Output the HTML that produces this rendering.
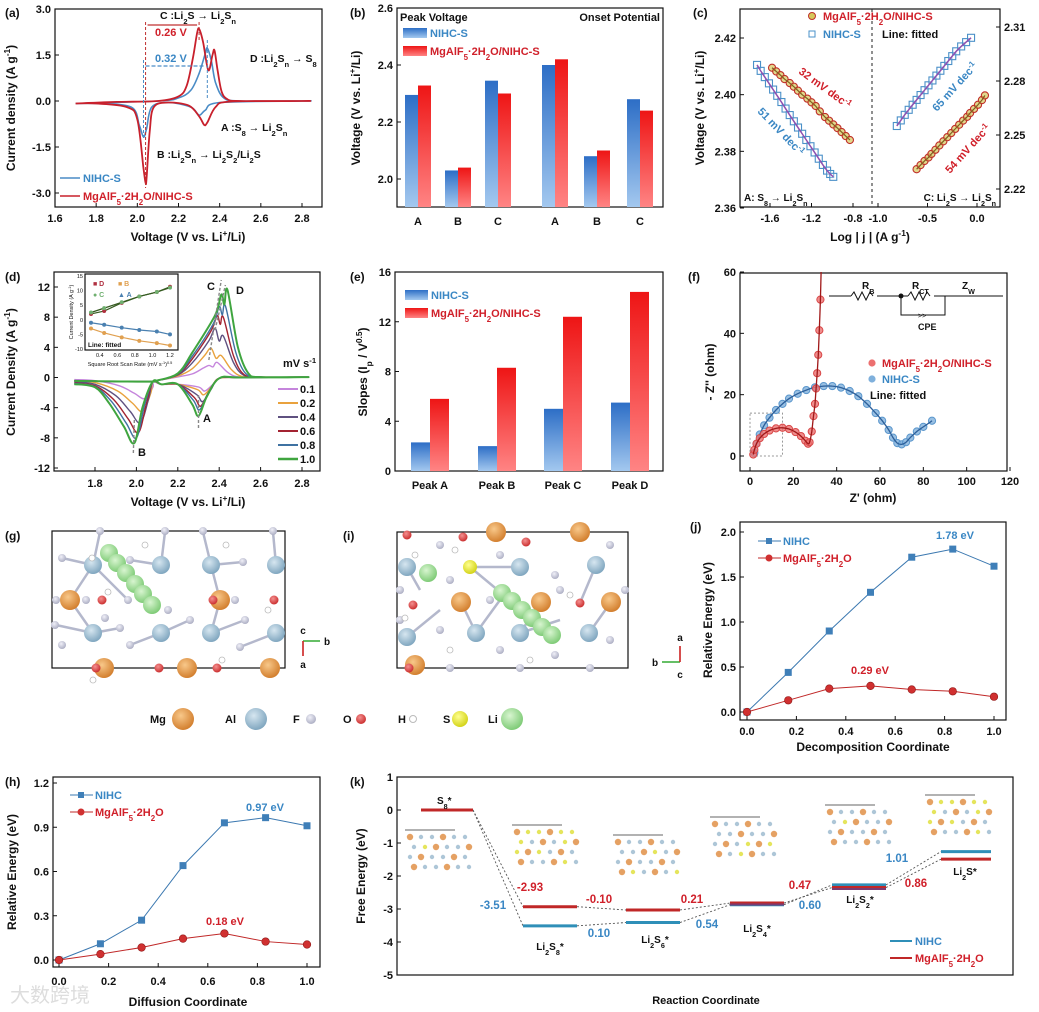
<!DOCTYPE html>
<html><head><meta charset="utf-8"><style>
html,body{margin:0;padding:0;background:#fff;}
svg{display:block;font-family:"Liberation Sans","Noto Sans CJK SC",sans-serif;font-weight:bold;}
</style></head><body>
<svg id="fig" width="1039" height="1012" viewBox="0 0 1039 1012" xmlns="http://www.w3.org/2000/svg">
<defs>
<linearGradient id="gb" x1="0" y1="0" x2="0" y2="1"><stop offset="0" stop-color="#2d6ec6"/><stop offset="1" stop-color="#a3c8ef"/></linearGradient>
<linearGradient id="gr" x1="0" y1="0" x2="0" y2="1"><stop offset="0" stop-color="#ee1515"/><stop offset="1" stop-color="#ff8484"/></linearGradient>
<radialGradient id="aMg" cx="0.4" cy="0.35" r="0.7"><stop offset="0" stop-color="#f8c88a"/><stop offset="1" stop-color="#d07a28"/></radialGradient>
<radialGradient id="aAl" cx="0.4" cy="0.35" r="0.7"><stop offset="0" stop-color="#d6e6f0"/><stop offset="1" stop-color="#7aa2bc"/></radialGradient>
<radialGradient id="aF" cx="0.4" cy="0.35" r="0.7"><stop offset="0" stop-color="#f0f0f8"/><stop offset="1" stop-color="#a8aac0"/></radialGradient>
<radialGradient id="aO" cx="0.4" cy="0.35" r="0.7"><stop offset="0" stop-color="#f49090"/><stop offset="1" stop-color="#c82828"/></radialGradient>
<radialGradient id="aS" cx="0.4" cy="0.35" r="0.7"><stop offset="0" stop-color="#ffff90"/><stop offset="1" stop-color="#d0d010"/></radialGradient>
<radialGradient id="aLi" cx="0.4" cy="0.35" r="0.7"><stop offset="0" stop-color="#d8f5d0"/><stop offset="1" stop-color="#78c870"/></radialGradient>
</defs>
</svg>
<script>
// ---------- DATA ----------
// (a)
const aRedV=[1.70,1.90,2.10,2.20,2.24,2.27,2.29,2.30,2.32,2.345,2.365,2.375,2.39,2.41,2.44,2.50,2.80,2.80,2.45,2.38,2.34,2.325,2.30,2.25,2.15,2.08,2.06,2.045,2.04,2.03,2.00,1.95,1.80,1.70];
const aRedI=[-0.08,-0.03,0,0.15,0.5,1.4,2.2,2.35,1.9,1.0,1.5,1.65,1.0,0.3,0.05,0,0,0,-0.02,-0.2,-0.7,-0.78,-0.5,-0.15,-0.05,-0.2,-1.0,-2.5,-2.67,-2.2,-0.6,-0.2,-0.08,-0.08];
const aBlueV=[1.70,2.10,2.20,2.26,2.30,2.33,2.34,2.36,2.38,2.42,2.50,2.80,2.80,2.40,2.33,2.30,2.26,2.15,2.07,2.045,2.03,2.01,1.97,1.80,1.70];
const aBlueI=[-0.08,0,0.1,0.35,0.9,1.55,1.72,1.3,0.6,0.1,0,0,0,-0.05,-0.3,-0.46,-0.2,-0.05,-0.2,-0.9,-1.17,-0.8,-0.2,-0.08,-0.08];
// (b)
const bCats=['A','B','C','A','B','C'];
const bBlue=[2.295,2.03,2.345,2.40,2.08,2.28];
const bRed=[2.328,2.04,2.30,2.42,2.10,2.24];
// (c)
const cBlueLX=[-1.725,-1.69,-1.65,-1.61,-1.57,-1.53,-1.49,-1.45,-1.41,-1.37,-1.33,-1.29,-1.25,-1.21,-1.17,-1.13,-1.09,-1.05,-1.02,-0.99];
const cBlueLY=[2.4105,2.4084,2.4062,2.4040,2.4018,2.3996,2.3974,2.3951,2.3928,2.3906,2.3884,2.3862,2.3840,2.3818,2.3796,2.3774,2.3752,2.3732,2.3720,2.371];
const cRedLX=[-1.58,-1.54,-1.50,-1.46,-1.41,-1.37,-1.33,-1.29,-1.24,-1.20,-1.16,-1.12,-1.07,-1.03,-0.99,-0.95,-0.91,-0.87,-0.83];
const cRedLY=[2.4095,2.4082,2.4069,2.4055,2.4041,2.4028,2.4014,2.4000,2.3986,2.3973,2.3960,2.3941,2.3921,2.3908,2.3895,2.3882,2.3868,2.3854,2.384];
const cBlueRX=[-0.81,-0.77,-0.73,-0.69,-0.65,-0.61,-0.57,-0.53,-0.49,-0.45,-0.41,-0.37,-0.33,-0.29,-0.25,-0.21,-0.16,-0.11,-0.06];
const cBlueRY=[2.255,2.2581,2.2612,2.2640,2.2668,2.2695,2.2722,2.2749,2.2776,2.2803,2.2830,2.2857,2.2884,2.2911,2.2938,2.2965,2.2992,2.3016,2.304];
const cRedRX=[-0.61,-0.57,-0.53,-0.49,-0.46,-0.42,-0.38,-0.34,-0.30,-0.26,-0.22,-0.18,-0.14,-0.10,-0.07,-0.03,0.01,0.05,0.08];
const cRedRY=[2.231,2.2333,2.2356,2.2375,2.2395,2.2418,2.2442,2.2465,2.2488,2.2511,2.2534,2.2557,2.2580,2.2601,2.2622,2.2645,2.2668,2.2694,2.272];
// (d)
const dRates=['0.1','0.2','0.4','0.6','0.8','1.0'];
const dColors=['#c585dc','#e9a23d','#5f5180','#a32331','#3f72a2','#3fa53f'];
const peakBI=[-2.8,-4.5,-6.0,-7.3,-8.0,-8.7];
const peakBV=[2.04,2.03,2.02,2.01,2.00,1.99];
const peakAI=[-1.8,-2.3,-3.2,-3.8,-4.3,-5.1];
const peakAV=[2.33,2.325,2.32,2.31,2.305,2.30];
const peakCI=[1.6,3.9,6.5,8.2,9.4,11.0];
const peakCV=[2.35,2.36,2.38,2.39,2.40,2.41];
const peakDI=[2.0,2.9,5.5,8.0,9.5,11.6];
const peakDV=[2.39,2.41,2.42,2.42,2.43,2.44];
const inX=[0.3,0.45,0.65,0.85,1.05,1.2];
const inD=[2,3,5.8,8,9.5,11.3];
const inC=[2.5,4,6,8,9.5,11];
const inA=[-1,-1.7,-2.7,-3.5,-4,-5];
const inB=[-3,-4.5,-6,-7.2,-8,-8.8];
// (e)
const eCats=['Peak A','Peak B','Peak C','Peak D'];
const eBlue=[2.3,2.0,5.0,5.5];
const eRed=[5.8,8.3,12.4,14.4];
// (f)
const fRedX=[1.5,2,3,4.5,6.5,9,12,15,18,21,23.5,25.5,26.8,27.5,28.5,29.3,30,30.5,31,31.5,32,32.5];
const fRedY=[0.5,2,4,5.8,7.2,8.3,9,9.2,8.8,7.8,6.5,5,4,4.5,8,13,17,22,27,33,41,51];
const fBlueX=[2,3,4.5,6.5,9,12,15,18,22,26,30,34,38,42,46,50,54,58,61,64,66,68,70,72,74,77,80,84];
const fBlueY=[1,4,7,10,12.5,15,17,18.7,20.3,21.5,22.4,22.8,22.8,22.3,21.2,19.5,17,14,11.5,8.5,6,4.2,3.8,4.5,6,8,9.5,11.5];
// (j)
const jX=[0,0.167,0.333,0.5,0.667,0.833,1.0];
const jNIHC=[0,0.44,0.90,1.33,1.72,1.81,1.62];
const jMg=[0,0.13,0.26,0.29,0.25,0.23,0.17];
// (h)
const hX=[0,0.167,0.333,0.5,0.667,0.833,1.0];
const hNIHC=[0,0.11,0.27,0.64,0.93,0.965,0.91];
const hMg=[0,0.04,0.085,0.145,0.18,0.125,0.105];
// (k)
const kStates=['S8*','Li2S8*','Li2S6*','Li2S4*','Li2S2*','Li2S*'];
const kNIHC=[0,-3.51,-3.41,-2.87,-2.27,-1.26];
const kMg=[0,-2.93,-3.03,-2.82,-2.35,-1.49];

// ---------- HELPERS ----------
const NS='http://www.w3.org/2000/svg';
const svg=document.getElementById('fig');
const BLUE='#3a87c4', RED='#d0202a';
function lin(d0,d1,r0,r1){return v=>r0+(v-d0)*(r1-r0)/(d1-d0);}
function el(tag,attrs,parent){const e=document.createElementNS(NS,tag);for(const k in attrs)e.setAttribute(k,attrs[k]);(parent||svg).appendChild(e);return e;}
function fmt(s){return s.replace(/_\{([^}]*)\}/g,'<tspan baseline-shift="sub" font-size="72%">$1</tspan>').replace(/_(\w)/g,'<tspan baseline-shift="sub" font-size="72%">$1</tspan>').replace(/\^\{([^}]*)\}/g,'<tspan baseline-shift="super" font-size="70%">$1</tspan>');}
function T(x,y,s,name,o){o=o||{};const e=el('text',{x:x,y:y,'font-size':o.fs||11,fill:o.fill||'#111','text-anchor':o.anchor||'start'});
 if(o.rot!==undefined)e.setAttribute('transform',`rotate(${o.rot} ${x} ${y})`);
 if(o.nb)e.setAttribute('font-weight','normal');
 e.innerHTML=fmt(s);
 
 
 return e;}
function frame(x0,y0,x1,y1,name){const r=el('rect',{x:x0,y:y0,width:x1-x0,height:y1-y0,fill:'none',stroke:'#111','stroke-width':1.2});
 
 }
function xAxis(sc,vals,labs,yB,yL,name){vals.forEach((v,i)=>{const x=sc(v);const t=el('line',{x1:x,y1:yB,x2:x,y2:yB-4,stroke:'#111'});
 
 
 T(x,yL,labs[i],name+'-label',{anchor:'middle'});});}
function yAxis(sc,vals,labs,xL,name,right){vals.forEach((v,i)=>{const y=sc(v);const t=el('line',{x1:xL,y1:y,x2:right?xL-4:xL+4,y2:y,stroke:'#111'});
 
 
 T(right?xL+4:xL-4,y+4,labs[i],name+'-label',{anchor:right?'start':'end'});});}
function smooth(p){let d=`M${p[0][0].toFixed(1)},${p[0][1].toFixed(1)}`;for(let i=0;i<p.length-1;i++){const p0=p[i-1]||p[i],p1=p[i],p2=p[i+1],p3=p[i+2]||p2;
 const c1=[p1[0]+(p2[0]-p0[0])/6,p1[1]+(p2[1]-p0[1])/6],c2=[p2[0]-(p3[0]-p1[0])/6,p2[1]-(p3[1]-p1[1])/6];
 d+=`C${c1[0].toFixed(1)},${c1[1].toFixed(1)} ${c2[0].toFixed(1)},${c2[1].toFixed(1)} ${p2[0].toFixed(1)},${p2[1].toFixed(1)}`;}return d;}
function path(d,stroke,w,name,dash){const e=el('path',{d:d,fill:'none',stroke:stroke,'stroke-width':w});if(dash)e.setAttribute('stroke-dasharray',dash);
 
 
 return e;}
function line(x1,y1,x2,y2,stroke,w,name,dash){const e=el('line',{x1:x1,y1:y1,x2:x2,y2:y2,stroke:stroke,'stroke-width':w});if(dash)e.setAttribute('stroke-dasharray',dash);
 
 
 return e;}

// ---------- (a) ----------
{const sx=lin(1.6,2.8,55,302),sy=lin(3,-3,9,193);
frame(55,9,322,207,'panel-a-frame');
xAxis(sx,[1.6,1.8,2.0,2.2,2.4,2.6,2.8],['1.6','1.8','2.0','2.2','2.4','2.6','2.8'],207,222,'a-x');
yAxis(sy,[3,1.5,0,-1.5,-3],['3.0','1.5','0.0','-1.5','-3.0'],55,'a-y');
T(5,17,'(a)','panel-a-tag',{fs:12});
T(15,108,'Current density (A g^{-1})','a-y-title',{fs:12,anchor:'middle',rot:-90});
T(188,241,'Voltage (V vs. Li^{+}/Li)','a-x-title',{fs:12,anchor:'middle'});
path(smooth(aBlueV.map((v,i)=>[sx(v),sy(aBlueI[i])])),'#4a8cc6',1.6,'a-nihc-curve');
path(smooth(aRedV.map((v,i)=>[sx(v),sy(aRedI[i])])),'#c8202c',1.8,'a-mg-curve');
line(sx(2.04),22,sx(2.04),188,'#c03030',1,'a-red-guide','3,2');
line(sx(2.30),22,sx(2.30),40,'#c03030',1,'a-red-guide2','3,2');
line(sx(2.03),60,sx(2.03),140,'#4a8cc6',1,'a-blue-guide','3,2');
line(sx(2.34),40,sx(2.34),100,'#4a8cc6',1,'a-blue-guide2','3,2');
line(sx(2.04)+2,25,sx(2.30)-2,25,'#c03030',1.3,'a-026-arrow');
line(sx(2.03)+2,66,sx(2.34)-2,66,'#4a8cc6',1.3,'a-032-arrow','4,2');
T(155,36,'0.26 V','a-026-label',{fill:RED});
T(155,62,'0.32 V','a-032-label',{fill:BLUE});
T(160,19,'C :Li_2S → Li_2S_n','a-peak-c-label',{fs:10.5});
T(250,62,'D :Li_2S_n → S_8','a-peak-d-label',{fs:10.5});
T(221,131,'A :S_8 → Li_2S_n','a-peak-a-label',{fs:10.5});
T(157,158,'B :Li_2S_n → Li_2S_2/Li_2S','a-peak-b-label',{fs:10.5});
line(60,178,80,178,'#4a8cc6',1.6,'a-legend-nihc-line');T(83,182,'NIHC-S','a-legend-nihc',{fill:BLUE});
line(60,196,80,196,'#c8202c',1.6,'a-legend-mg-line');T(83,200,'MgAlF_5·2H_2O/NIHC-S','a-legend-mg',{fill:RED});}

// ---------- (b) ----------
{const sy=lin(2.0,2.6,179,8),cx=[418,458,498,555,597,640],bw=13,base=207;
frame(397,8,663,207,'panel-b-frame');
yAxis(sy,[2.0,2.2,2.4,2.6],['2.0','2.2','2.4','2.6'],397,'b-y');
T(350,17,'(b)','panel-b-tag',{fs:12});
T(360,108,'Voltage (V vs. Li^{+}/Li)','b-y-title',{fs:12,anchor:'middle',rot:-90});
bCats.forEach((c,i)=>{const yb=sy(bBlue[i]),yr=sy(bRed[i]);
 const b=el('rect',{x:cx[i]-bw,y:yb,width:bw,height:base-yb,fill:'url(#gb)'});
 
 
 const r=el('rect',{x:cx[i],y:yr,width:bw,height:base-yr,fill:'url(#gr)'});
 
 
 T(cx[i],225,c,'b-cat-label',{anchor:'middle'});});
T(400,21,'Peak Voltage','b-peak-voltage-title');
T(660,21,'Onset Potential','b-onset-title',{anchor:'end'});
el('rect',{x:403,y:28,width:24,height:10,fill:'url(#gb)'});T(430,37,'NIHC-S','b-legend-nihc',{fill:BLUE});
el('rect',{x:403,y:46,width:24,height:10,fill:'url(#gr)'});T(430,55,'MgAlF_5·2H_2O/NIHC-S','b-legend-mg',{fill:RED});}

// ---------- (c) ----------
{const sxL=lin(-1.6,-0.8,770,853),sxR=lin(-1.0,0.0,878,977),syL=lin(2.42,2.36,38,208),syR=lin(2.31,2.22,27,189);
frame(740,9,1000,207,'panel-c-frame');
xAxis(sxL,[-1.6,-1.2,-0.8],['-1.6','-1.2','-0.8'],207,222,'c-x-left');
xAxis(sxR,[-1.0,-0.5,0.0],['-1.0','-0.5','0.0'],207,222,'c-x-right');
yAxis(syL,[2.42,2.40,2.38,2.36],['2.42','2.40','2.38','2.36'],740,'c-y-left');
yAxis(syR,[2.31,2.28,2.25,2.22],['2.31','2.28','2.25','2.22'],1000,'c-y-right',true);
line(872,9,872,207,'#222',1,'c-divider','3,3');
T(693,17,'(c)','panel-c-tag',{fs:12});
T(704,108,'Voltage (V vs. Li^{+}/Li)','c-y-title',{fs:12,anchor:'middle',rot:-90});
T(870,241,'Log | j | (A g^{-1})','c-x-title',{fs:12,anchor:'middle'});
function sq(xs,ys,sx,sy,name,fitc){
 xs.forEach((v,i)=>{const m=el('rect',{x:sx(v)-3.5,y:sy(ys[i])-3.5,width:7,height:7,fill:'#fff','fill-opacity':0.3,stroke:'#4a90c8','stroke-width':1.1});
 
 });
 path('M'+xs.map((v,i)=>sx(v)+','+sy(ys[i])).join('L'),fitc,1.5,name+'-fit');}
function ci(xs,ys,sx,sy,name,fitc){
 xs.forEach((v,i)=>{const m=el('circle',{cx:sx(v),cy:sy(ys[i]),r:3.6,fill:'#d6c85c','fill-opacity':0.7,stroke:'#c0302a','stroke-width':1.1});
 
 });
 path('M'+xs.map((v,i)=>sx(v)+','+sy(ys[i])).join('L'),fitc,1.2,name+'-fit');}
sq(cBlueLX,cBlueLY,sxL,syL,'c-nihc-a','#9050b0');
ci(cRedLX,cRedLY,sxL,syL,'c-mg-a','#806020');
sq(cBlueRX,cBlueRY,sxR,syR,'c-nihc-c','#9050b0');
ci(cRedRX,cRedRY,sxR,syR,'c-mg-c','#806020');
el('circle',{cx:812,cy:16,r:3.5,fill:'#d6c85c',stroke:'#c0302a'});T(823,20,'MgAlF_5·2H_2O/NIHC-S','c-legend-mg',{fill:RED});
el('rect',{x:809,y:31,width:6,height:6,fill:'none',stroke:'#4a90c8'});T(823,38,'NIHC-S','c-legend-nihc',{fill:BLUE});
T(882,38,'Line: fitted','c-legend-fitted');
T(798,73,'32 mV dec^{-1}','c-slope-32',{fill:RED,rot:36});
T(757,112,'51 mV dec^{-1}','c-slope-51',{fill:BLUE,rot:46});
T(937,112,'65 mV dec^{-1}','c-slope-65',{fill:BLUE,rot:-48});
T(950,174,'54 mV dec^{-1}','c-slope-54',{fill:RED,rot:-48});
T(744,201,'A: S_8 → Li_2S_n','c-region-a',{fs:10});
T(996,201,'C: Li_2S → Li_2S_n','c-region-c',{fs:10,anchor:'end'});}

// ---------- (d) ----------
{const sx=lin(1.8,2.8,95,302),sy=lin(12,-12,287,468);
frame(54,272,320,471,'panel-d-frame');
xAxis(sx,[1.8,2.0,2.2,2.4,2.6,2.8],['1.8','2.0','2.2','2.4','2.6','2.8'],471,487,'d-x');
yAxis(sy,[12,8,4,0,-4,-8,-12],['12','8','4','0','-4','-8','-12'],54,'d-y');
T(5,281,'(d)','panel-d-tag',{fs:12});
T(15,372,'Current Density (A g^{-1})','d-y-title',{fs:12,anchor:'middle',rot:-90});
T(188,506,'Voltage (V vs. Li^{+}/Li)','d-x-title',{fs:12,anchor:'middle'});
dRates.forEach((r,i)=>{const B=peakBI[i],A=peakAI[i],C=peakCI[i],D=peakDI[i];
 const pts=[[1.7,-0.45],[2.05,-0.55],[2.1,-0.4],[2.2,0.05*C],[2.27,0.3*C],[peakCV[i]-0.03,0.75*C],[peakCV[i],C],[(peakCV[i]+peakDV[i])/2,Math.min(C,D)*0.88],[peakDV[i],D],[peakDV[i]+0.05,0.35*D],[peakDV[i]+0.1,0.05*D],[2.6,0.05],[2.8,0.05],
  [2.8,0.05],[2.5,0],[2.4,-0.1],[peakAV[i]+0.04,0.5*A],[peakAV[i],A],[peakAV[i]-0.03,0.7*A],[2.2,-0.9],[2.12,-0.9],[2.08,-0.5],[peakBV[i]+0.04,0.45*B],[peakBV[i],B],[peakBV[i]-0.05,0.75*B],[peakBV[i]-0.12,0.4*B],[1.8,0.15*B],[1.7,0.1*B]];
 path(smooth(pts.map(p=>[sx(p[0]),sy(p[1])])),dColors[i],i==5?2:1.4,'d-cv-curve-'+r);
 line(278,389+i*14,298,389+i*14,dColors[i],i==5?2.5:2,'d-legend-line-'+r);
 T(300,393+i*14,r,'d-legend-'+r);});
T(283,367,'mV s^{-1}','d-legend-title');
T(207,290,'C','d-peak-c');T(236,294,'D','d-peak-d');T(203,422,'A','d-peak-a');T(138,456,'B','d-peak-b');
line(sx(2.30),395,sx(2.30),428,'#888',1.4,'d-arrow-a','3,2');line(sx(1.99),420,sx(1.985),455,'#888',1.4,'d-arrow-b','3,2');
line(sx(2.35),360,sx(2.41),280,'#888',1.4,'d-arrow-c','3,2');line(sx(2.38),330,sx(2.43),285,'#888',1.4,'d-arrow-d','3,2');
// inset
const ix=lin(0.3,1.2,91,170),iy=lin(15,-10,276,349);
frame(85,274,178,350,'d-inset-frame');
[15,10,5,0,-5,-10].forEach(v=>T(83,iy(v)+2,String(v),'d-inset-y-label',{fs:5.5,anchor:'end',nb:1}));
[0.4,0.6,0.8,1.0,1.2].forEach(v=>T(ix(v),357,v.toFixed(1),'d-inset-x-label',{fs:5.5,anchor:'middle',nb:1}));
T(73,312,'Current Density (A g^{-1})','d-inset-y-title',{fs:5.5,anchor:'middle',rot:-90,nb:1});
T(130,366,'Square Root Scan Rate (mV s^{-1})^{0.5}','d-inset-x-title',{fs:5.5,anchor:'middle',nb:1});
[[inD,'#b03040'],[inC,'#70b070'],[inA,'#4a80b0'],[inB,'#e0a050']].forEach((s,k)=>{
 path('M'+inX.map((v,i)=>ix(v)+','+iy(s[0][i])).join('L'),k<2?'#355a20':s[1],1.2,'d-inset-fit-'+k);
 inX.forEach((v,i)=>{const m=el('circle',{cx:ix(v),cy:iy(s[0][i]),r:2,fill:s[1]});
 
 });});
T(93,286,'■ D','d-inset-legend-d',{fs:7,fill:'#b03040'});T(118,286,'■ B','d-inset-legend-b',{fs:7,fill:'#e0a050'});
T(93,297,'● C','d-inset-legend-c',{fs:7,fill:'#70b070'});T(118,297,'▲ A','d-inset-legend-a',{fs:7,fill:'#4a80b0'});
T(88,347,'Line: fitted','d-inset-fitted',{fs:6.5});}

// ---------- (e) ----------
{const sy=lin(0,16,471,272),cx=[430,497,563,630],bw=19;
frame(395,272,663,471,'panel-e-frame');
yAxis(sy,[0,4,8,12,16],['0','4','8','12','16'],395,'e-y');
T(350,281,'(e)','panel-e-tag',{fs:12});
T(367,372,'Slopes (I_p / V^{0.5})','e-y-title',{fs:12,anchor:'middle',rot:-90});
eCats.forEach((c,i)=>{const yb=sy(eBlue[i]),yr=sy(eRed[i]);
 const b=el('rect',{x:cx[i]-bw,y:yb,width:bw,height:471-yb,fill:'url(#gb)'});
 
 
 const r=el('rect',{x:cx[i],y:yr,width:bw,height:471-yr,fill:'url(#gr)'});
 
 
 T(cx[i],489,c,'e-cat-label',{anchor:'middle'});});
el('rect',{x:405,y:290,width:23,height:10,fill:'url(#gb)'});T(431,299,'NIHC-S','e-legend-nihc',{fill:BLUE});
el('rect',{x:405,y:308,width:23,height:10,fill:'url(#gr)'});T(431,317,'MgAlF_5·2H_2O/NIHC-S','e-legend-mg',{fill:RED});}

// ---------- (f) ----------
{const sx=lin(0,120,750,1010),sy=lin(0,60,456,272);
frame(740,273,1007,471,'panel-f-frame');
xAxis(sx,[0,20,40,60,80,100,120],['0','20','40','60','80','100','120'],471,485,'f-x');
yAxis(sy,[0,20,40,60],['0','20','40','60'],740,'f-y');
T(688,281,'(f)','panel-f-tag',{fs:12});
T(714,372,"- Z'' (ohm)",'f-y-title',{fs:12,anchor:'middle',rot:-90});
T(873,502,"Z' (ohm)",'f-x-title',{fs:12,anchor:'middle'});
el('rect',{x:sx(0),y:sy(14),width:sx(15)-sx(0),height:sy(0)-sy(14),fill:'none',stroke:'#999','stroke-dasharray':'2,2'});
fBlueX.forEach((v,i)=>{const m=el('circle',{cx:sx(v),cy:sy(fBlueY[i]),r:3.6,fill:'#7fb0dc',stroke:'#5a96cc','fill-opacity':0.8});
 
 });
path(smooth(fBlueX.map((v,i)=>[sx(v),sy(fBlueY[i])])),'#2c5f9a',1.3,'f-nihc-fit');
fRedX.forEach((v,i)=>{const m=el('circle',{cx:sx(v),cy:sy(fRedY[i]),r:3.6,fill:'#ec7070',stroke:'#d84848','fill-opacity':0.8});
 
 });
path(smooth(fRedX.map((v,i)=>[sx(v),sy(fRedY[i])]).concat([[sx(32.8),sy(60)]])),'#a01818',1.3,'f-mg-fit');
// circuit
const cg='#111';line(829,296,851,296,cg,1,'f-circuit-wire');path('M851,296l3,-4l4,8l4,-8l4,8l4,-8l3,4',cg,1,'f-rb-resistor');line(877,296,908,296,cg,1,'f-circuit-wire');
el('circle',{cx:901,cy:296,r:2.5,fill:cg});path('M908,296l3,-4l4,8l4,-8l4,8l4,-8l3,4',cg,1,'f-rct-resistor');line(934,296,1003,296,cg,1,'f-circuit-wire');
path('M901,296V315H945V296',cg,1,'f-cpe-branch');T(918,318,'>>','f-cpe-symbol',{fs:7,nb:1});
T(862,289,'R_B','f-rb-label',{fs:10});T(912,289,'R_{CT}','f-rct-label',{fs:10});T(962,289,'Z_W','f-zw-label',{fs:10});T(918,330,'CPE','f-cpe-label',{fs:9});
el('circle',{cx:872,cy:363,r:3.6,fill:'#ec7070'});T(882,367,'MgAlF_5·2H_2O/NIHC-S','f-legend-mg',{fill:RED});
el('circle',{cx:872,cy:379,r:3.6,fill:'#7fb0dc'});T(882,383,'NIHC-S','f-legend-nihc',{fill:BLUE});
T(870,399,'Line: fitted','f-legend-fitted');}

// ---------- structures (g) (i) ----------
{const cols={Mg:'url(#aMg)',Al:'url(#aAl)',F:'url(#aF)',O:'url(#aO)',S:'url(#aS)',Li:'url(#aLi)',H:'#fff'};
function atoms(list,name){list.forEach(a=>{const c=el('circle',{cx:a[0],cy:a[1],r:a[2],fill:cols[a[3]],stroke:a[3]=='H'?'#bbb':'none','stroke-width':0.8});
 
 });}
const bonds=(pairs)=>pairs.forEach(p=>line(p[0],p[1],p[2],p[3],'#b4b8cc',2.5,'structure-bond'));
bonds([[93,565,62,558],[93,565,100,532],[93,565,128,600],[161,565,165,532],[161,565,130,560],[211,565,203,532],[211,565,243,562],[276,565,273,532],[93,633,56,625],[93,633,120,628],[161,633,190,620],[211,633,245,620],[276,633,240,647],[161,633,130,645],[70,600,93,565],[220,600,211,565],[70,600,93,633],[220,600,211,633]]);
frame(52,531,285,668,'panel-g-cell');
atoms([[100,531,4,'F'],[165,531,4,'F'],[203,531,4,'F'],[273,531,4,'F'],[62,558,4,'F'],[130,560,4,'F'],[243,562,4,'F'],[56,600,4,'F'],[86,600,4,'F'],[128,600,4,'F'],[235,600,4,'F'],[168,610,4,'F'],[105,618,4,'F'],[55,625,4,'F'],[120,628,4,'F'],[190,620,4,'F'],[245,620,4,'F'],[62,645,4,'F'],[130,645,4,'F'],[240,647,4,'F'],[100,668,4,'F'],
 [70,600,10,'Mg'],[220,600,10,'Mg'],[104,668,10,'Mg'],[187,668,10,'Mg'],[270,668,10,'Mg'],
 [93,565,9,'Al'],[161,565,9,'Al'],[211,565,9,'Al'],[276,565,9,'Al'],[93,633,9,'Al'],[161,633,9,'Al'],[211,633,9,'Al'],[276,633,9,'Al'],
 [102,600,4.5,'O'],[213,600,4.5,'O'],[274,600,4.5,'O'],[96,668,4.5,'O'],[159,668,4.5,'O'],[217,668,4.5,'O'],
 [92,558,3,'H'],[108,592,3,'H'],[145,545,3,'H'],[226,545,3,'H'],[268,610,3,'H'],[93,680,3,'H'],[222,660,3,'H'],
 [109,553,9,'Li'],[117,563,9,'Li'],[126,573,9,'Li'],[135,584,9,'Li'],[143,594,9,'Li'],[152,605,9,'Li']],'g');
line(303,641,320,641,'#3a3',1.6,'g-axis-b');line(303,641,303,656,'#c22',1.6,'g-axis-a');
T(303,634,'c','g-axis-c-label',{fs:10,anchor:'middle'});T(324,645,'b','g-axis-b-label',{fs:10});T(303,668,'a','g-axis-a-label',{fs:10,anchor:'middle'});
T(5,540,'(g)','panel-g-tag',{fs:12});
bonds([[407,567,420,590],[520,567,470,567],[596,565,580,603],[407,637,440,610],[476,633,500,600],[520,633,560,620],[589,633,611,602],[461,602,476,633],[541,602,520,633],[470,567,552,635]]);
frame(397,532,628,668,'panel-i-cell');
atoms([[440,545,4,'F'],[500,555,4,'F'],[555,575,4,'F'],[610,545,4,'F'],[400,590,4,'F'],[450,580,4,'F'],[490,600,4,'F'],[560,590,4,'F'],[625,590,4,'F'],[400,620,4,'F'],[440,630,4,'F'],[500,650,4,'F'],[555,655,4,'F'],[610,640,4,'F'],[450,668,4,'F'],[520,668,4,'F'],[590,668,4,'F'],
 [496,532,10,'Mg'],[580,532,10,'Mg'],[461,602,10,'Mg'],[541,602,10,'Mg'],[611,602,10,'Mg'],[415,665,10,'Mg'],
 [407,567,9,'Al'],[520,567,9,'Al'],[596,565,9,'Al'],[407,637,9,'Al'],[476,633,9,'Al'],[520,633,9,'Al'],[589,633,9,'Al'],
 [407,535,4.5,'O'],[463,537,4.5,'O'],[526,542,4.5,'O'],[413,605,4.5,'O'],[580,603,4.5,'O'],[409,668,4.5,'O'],
 [415,555,3,'H'],[455,550,3,'H'],[405,618,3,'H'],[570,595,3,'H'],[450,650,3,'H'],[530,660,3,'H'],
 [470,567,7,'S'],[428,573,9,'Li'],[502,593,9,'Li'],[512,601,9,'Li'],[522,610,9,'Li'],[532,618,9,'Li'],[542,627,9,'Li'],[552,635,9,'Li']],'i');
line(680,662,662,662,'#3a3',1.6,'i-axis-b');line(680,662,680,646,'#c22',1.6,'i-axis-a');
T(680,641,'a','i-axis-a-label',{fs:10,anchor:'middle'});T(652,666,'b','i-axis-b-label',{fs:10});T(680,678,'c','i-axis-c-label',{fs:10,anchor:'middle'});
T(343,540,'(i)','panel-i-tag',{fs:12});
[['Mg',150,183,11],['Al',225,256,11],['F',293,311,5],['O',343,361,5],['H',398,413,3.5],['S',443,460,8],['Li',488,512,11]].forEach(e=>{
 T(e[1],723,e[0],'legend-'+e[0].toLowerCase()+'-label',{fs:11});
 const c=el('circle',{cx:e[2],cy:719,r:e[3],fill:cols[e[0]],stroke:e[0]=='H'?'#bbb':'none'});
 
 });}

// ---------- line charts (j) (h) ----------
function energyChart(xs,s1,s2,sx,sy,name){
 path('M'+xs.map((v,i)=>sx(v)+','+sy(s1[i])).join('L'),'#3b78b0',1,name+'-nihc-line');
 path('M'+xs.map((v,i)=>sx(v)+','+sy(s2[i])).join('L'),'#c02828',1,name+'-mg-line');
 xs.forEach((v,i)=>{const m=el('rect',{x:sx(v)-3.5,y:sy(s1[i])-3.5,width:7,height:7,fill:'#3f7fb8'});
 
 
 const c=el('circle',{cx:sx(v),cy:sy(s2[i]),r:3.8,fill:'#d03030',stroke:'#901818','stroke-width':0.6});
 
 });}
{const sx=lin(0,1,747,994),sy=lin(0,2,712,532);
frame(740,522,1006,720,'panel-j-frame');
xAxis(sx,[0,0.2,0.4,0.6,0.8,1.0],['0.0','0.2','0.4','0.6','0.8','1.0'],720,735,'j-x');
yAxis(sy,[0,0.5,1,1.5,2],['0.0','0.5','1.0','1.5','2.0'],740,'j-y');
T(690,531,'(j)','panel-j-tag',{fs:12});
T(712,620,'Relative Energy (eV)','j-y-title',{fs:12,anchor:'middle',rot:-90});
T(873,751,'Decomposition Coordinate','j-x-title',{fs:12,anchor:'middle'});
energyChart(jX,jNIHC,jMg,sx,sy,'j');
line(758,541,781,541,'#3b78b0',1,'j-legend-nihc-line');el('rect',{x:766,y:538,width:6,height:6,fill:'#3f7fb8'});T(783,545,'NIHC','j-legend-nihc',{fill:BLUE});
line(758,558,781,558,'#c02828',1,'j-legend-mg-line');el('circle',{cx:769,cy:558,r:3.5,fill:'#d03030'});T(783,562,'MgAlF_5·2H_2O','j-legend-mg',{fill:RED});
T(955,539,'1.78 eV','j-label-178',{fill:BLUE,anchor:'middle'});T(870,674,'0.29 eV','j-label-029',{fill:RED,anchor:'middle'});}
{const sx=lin(0,1,59,307),sy=lin(0,1.2,960,783);
frame(53,777,320,967,'panel-h-frame');
xAxis(sx,[0,0.2,0.4,0.6,0.8,1.0],['0.0','0.2','0.4','0.6','0.8','1.0'],967,985,'h-x');
yAxis(sy,[0,0.3,0.6,0.9,1.2],['0.0','0.3','0.6','0.9','1.2'],53,'h-y');
T(5,786,'(h)','panel-h-tag',{fs:12});
T(16,872,'Relative Energy (eV)','h-y-title',{fs:12,anchor:'middle',rot:-90});
T(188,1006,'Diffusion Coordinate','h-x-title',{fs:12,anchor:'middle'});
energyChart(hX,hNIHC,hMg,sx,sy,'h');
line(70,795,93,795,'#3b78b0',1,'h-legend-nihc-line');el('rect',{x:78,y:792,width:6,height:6,fill:'#3f7fb8'});T(95,799,'NIHC','h-legend-nihc',{fill:BLUE});
line(70,812,93,812,'#c02828',1,'h-legend-mg-line');el('circle',{cx:81,cy:812,r:3.5,fill:'#d03030'});T(95,816,'MgAlF_5·2H_2O','h-legend-mg',{fill:RED});
T(265,811,'0.97 eV','h-label-097',{fill:BLUE,anchor:'middle'});T(225,925,'0.18 eV','h-label-018',{fill:RED,anchor:'middle'});
T(10,1002,'大数跨境','watermark',{fs:20,fill:'#ddd',nb:1});}

// ---------- (k) ----------
{const sy=lin(1,-5,777,975),x0=[421,523,626,730,832,941],w=[52,54,54,54,54,50];
frame(397,777,1013,975,'panel-k-frame');
yAxis(sy,[1,0,-1,-2,-3,-4,-5],['1','0','-1','-2','-3','-4','-5'],397,'k-y');
T(350,786,'(k)','panel-k-tag',{fs:12});
T(365,876,'Free Energy (eV)','k-y-title',{fs:12,anchor:'middle',rot:-90});
T(706,1004,'Reaction Coordinate','k-x-title',{fs:11,anchor:'middle'});
kStates.forEach((s,i)=>{
 if(i>0){line(x0[i-1]+w[i-1],sy(kNIHC[i-1]),x0[i],sy(kNIHC[i]),'#555',0.9,'k-nihc-connector','2,2');
  line(x0[i-1]+w[i-1],sy(kMg[i-1]),x0[i],sy(kMg[i]),'#555',0.9,'k-mg-connector','2,2');}});
kStates.forEach((s,i)=>{
 if(i>0){line(x0[i],sy(kNIHC[i]),x0[i]+w[i],sy(kNIHC[i]),'#2f8fb8',3,'k-nihc-level-'+i);}
 line(x0[i],sy(kMg[i]),x0[i]+w[i],sy(kMg[i]),'#c02828',3,'k-mg-level-'+i);
 if(i==3||i==4)line(x0[i],sy(kMg[i])+1.5,x0[i]+w[i],sy(kMg[i])+1.5,'#7a3a70',2,'k-overlap-level-'+i);});
T(437,804,'S_8*','k-state-s8',{fs:10});T(550,950,'Li_2S_8*','k-state-li2s8',{fs:10,anchor:'middle'});
T(655,943,'Li_2S_6*','k-state-li2s6',{fs:10,anchor:'middle'});T(757,932,'Li_2S_4*','k-state-li2s4',{fs:10,anchor:'middle'});
T(860,903,'Li_2S_2*','k-state-li2s2',{fs:10,anchor:'middle'});T(965,875,'Li_2S*','k-state-li2s',{fs:10,anchor:'middle'});
[['-3.51',493,909,BLUE],['-2.93',530,891,RED],['-0.10',599,903,RED],['0.10',599,937,BLUE],['0.21',692,903,RED],['0.54',707,928,BLUE],['0.47',800,889,RED],['0.60',810,909,BLUE],['1.01',897,862,BLUE],['0.86',916,887,RED]].forEach(l=>T(l[1],l[2],l[0],'k-step-label',{fs:11.5,fill:l[3],anchor:'middle'}));
line(890,941,912,941,'#2f8fb8',2,'k-legend-nihc-line');T(915,945,'NIHC','k-legend-nihc',{fill:BLUE});
line(890,958,912,958,'#c02828',2,'k-legend-mg-line');T(915,962,'MgAlF_5·2H_2O','k-legend-mg',{fill:RED});
[[445,855],[552,850],[653,860],[750,842],[865,830],[965,820]].forEach((p,k)=>{
 line(p[0]-40,p[1]-25,p[0]+10,p[1]-25,'#333',0.8,'k-thumb-edge');
 for(let r=0;r<4;r++)for(let c=0;c<6;c++){const cc=el('circle',{cx:p[0]-35+c*11+(r%2)*4,cy:p[1]-18+r*10,r:(c+r)%3==0?3.2:2.2,fill:(c+r)%3==0?'#e09048':((c*r+k)%4==1?'#e0e040':'#9fbcd0'),opacity:0.85});
 
 }});}
</script>
</body></html>
